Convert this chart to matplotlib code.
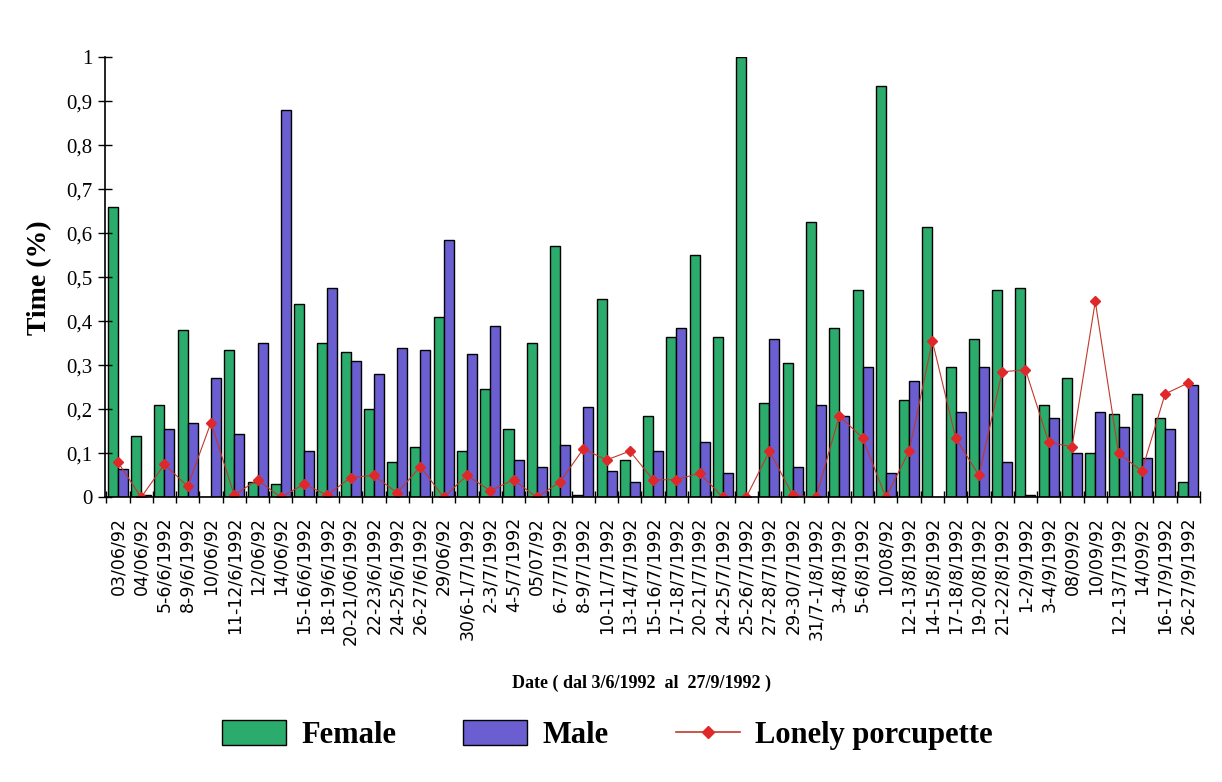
import numpy as np
import matplotlib
matplotlib.use('Agg')
import matplotlib.pyplot as plt
from matplotlib.lines import Line2D
from matplotlib.patches import Patch

dates = ['03/06/92', '04/06/92', '5-6/6/1992', '8-9/6/1992', '10/06/92', '11-12/6/1992',
         '12/06/92', '14/06/92', '15-16/6/1992', '18-19/6/1992', '20-21/06/1992', '22-23/6/1992',
         '24-25/6/1992', '26-27/6/1992', '29/06/92', '30/6-1/7/1992', '2-3/7/1992', '4-5/7/1992',
         '05/07/92', '6-7/7/1992', '8-9/7/1992', '10-11/7/1992', '13-14/7/1992', '15-16/7/1992',
         '17-18/7/1992', '20-21/7/1992', '24-25/7/1992', '25-26/7/1992', '27-28/7/1992',
         '29-30/7/1992', '31/7-1/8/1992', '3-4/8/1992', '5-6/8/1992', '10/08/92', '12-13/8/1992',
         '14-15/8/1992', '17-18/8/1992', '19-20/8/1992', '21-22/8/1992', '1-2/9/1992',
         '3-4/9/1992', '08/09/92', '10/09/92', '12-13/7/1992', '14/09/92', '16-17/9/1992',
         '26-27/9/1992']

female = [0.66, 0.14, 0.21, 0.38, 0.0, 0.335, 0.035, 0.03, 0.44, 0.35, 0.33, 0.20,
          0.08, 0.115, 0.41, 0.105, 0.245, 0.155, 0.35, 0.57, 0.005, 0.45, 0.085, 0.185,
          0.365, 0.55, 0.365, 1.0, 0.215, 0.305, 0.625, 0.385, 0.47, 0.935, 0.22,
          0.615, 0.295, 0.36, 0.47, 0.475, 0.21, 0.27, 0.10, 0.19, 0.235, 0.18, 0.035]

male = [0.065, 0.005, 0.155, 0.17, 0.27, 0.145, 0.35, 0.88, 0.105, 0.475, 0.31, 0.28,
        0.34, 0.335, 0.585, 0.325, 0.39, 0.085, 0.07, 0.12, 0.205, 0.06, 0.035, 0.105,
        0.385, 0.125, 0.055, 0.0, 0.36, 0.07, 0.21, 0.185, 0.295, 0.055, 0.265,
        0.0, 0.195, 0.295, 0.08, 0.005, 0.18, 0.10, 0.195, 0.16, 0.09, 0.155, 0.255]

lonely = [0.08, 0.0, 0.075, 0.025, 0.17, 0.005, 0.04, 0.0, 0.03, 0.005, 0.045, 0.05,
          0.01, 0.07, 0.0, 0.05, 0.015, 0.04, 0.0, 0.035, 0.11, 0.085, 0.105, 0.04,
          0.04, 0.055, 0.0, 0.0, 0.105, 0.005, 0.0, 0.185, 0.135, 0.0, 0.105,
          0.355, 0.135, 0.05, 0.285, 0.29, 0.125, 0.115, 0.445, 0.1, 0.06, 0.235, 0.26]

green = '#2bab6c'
blue = '#6a5ed0'
red = '#e0282a'

fig = plt.figure(figsize=(12.22, 7.82), dpi=100)
ax = fig.add_axes([0.086, 0.364, 0.896, 0.563])

x = np.arange(len(dates))
w = 0.43
ax.bar(x - w/2, female, width=w, color=green, edgecolor='black', linewidth=1.0)
ax.bar(x + w/2, male, width=w, color=blue, edgecolor='black', linewidth=1.0)
ax.plot(x, lonely, color='#c0392b', lw=0.8, marker='D', markersize=5,
        markerfacecolor=red, markeredgecolor=red)

ax.set_xlim(-0.55, len(dates) - 0.5)
ax.set_ylim(0, 1)
ax.set_yticks(np.arange(0, 1.01, 0.1))
ax.set_yticklabels(['0'] + [f'0,{i}' for i in range(1, 10)] + ['1'],
                   fontfamily='Liberation Serif', fontsize=15)
ax.tick_params(axis='y', direction='inout', length=10, width=1, pad=4)

ax.set_xticks(x)
ax.set_xticklabels(dates, rotation=90, fontsize=12.5, fontfamily='DejaVu Sans')
ax.tick_params(axis='x', which='major', length=0, pad=14)
ax.set_xticks(np.arange(-0.5, len(dates), 1), minor=True)
ax.tick_params(axis='x', which='minor', direction='inout', length=8, width=1)

for s in ['top', 'right']:
    ax.spines[s].set_visible(False)
ax.spines['left'].set_linewidth(1.2)
ax.spines['bottom'].set_linewidth(1.2)

ax.set_ylabel('Time (%)', fontfamily='Liberation Serif', fontsize=20, fontweight='bold', labelpad=10)
fig.text(0.525, 0.12, 'Date ( dal 3/6/1992  al  27/9/1992 )', ha='center',
         fontfamily='Liberation Serif', fontsize=13, fontweight='bold')

handles = [Patch(facecolor=green, edgecolor='black'),
           Patch(facecolor=blue, edgecolor='black'),
           Line2D([0], [0], color='#c0392b', lw=1.2, marker='D', markersize=6,
                  markerfacecolor=red, markeredgecolor=red)]
fig.legend(handles, ['Female', 'Male', 'Lonely porcupette'], loc='center',
           bbox_to_anchor=(0.497, 0.06), ncol=3, frameon=False,
           prop={'family': 'Liberation Serif', 'size': 22, 'weight': 'bold'},
           handlelength=2.1, handleheight=0.85, columnspacing=2.2, handletextpad=0.5)

fig.savefig('out.png', dpi=100)
